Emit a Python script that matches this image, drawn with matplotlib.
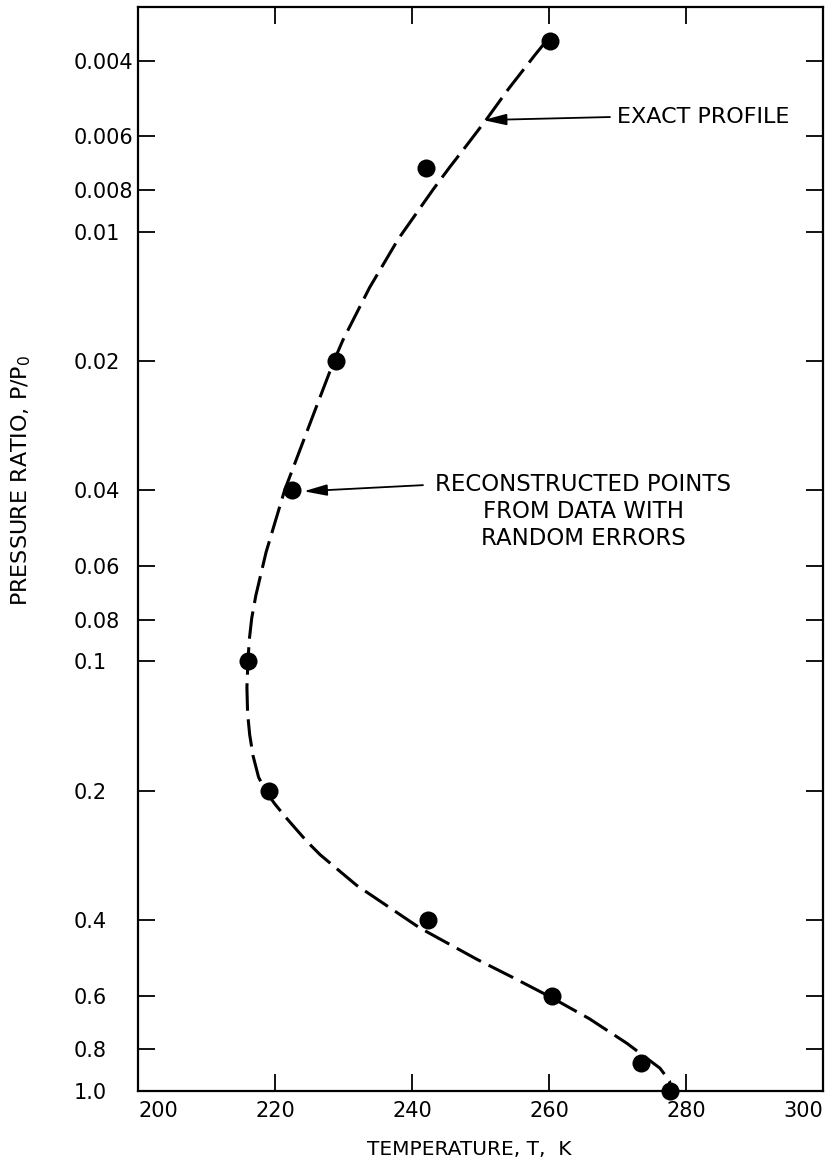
import matplotlib.pyplot as plt

# exact profile (temperature K, pressure ratio)
profile_t = [259.6, 258.0, 254.1, 250.9, 248.0, 245.5, 243.1, 238.0, 233.8,
             229.9, 228.6, 225.9, 221.4, 218.7, 217.2, 216.6, 216.25, 216.05,
             215.9, 216.0, 216.3, 216.8, 217.6, 218.6, 219.9, 221.4, 223.0,
             224.7, 226.6, 231.9, 241.1, 249.5, 254.6, 260.2, 265.9, 271.4,
             276.2, 277.6, 277.7]
profile_p = [0.0036, 0.00387, 0.00465, 0.00547, 0.00629, 0.00708, 0.00797,
             0.0104, 0.0135, 0.0179, 0.0200, 0.0259, 0.0400, 0.0557, 0.0703,
             0.0794, 0.0890, 0.100, 0.115, 0.132, 0.148, 0.166, 0.186, 0.200,
             0.214, 0.229, 0.245, 0.263, 0.282, 0.332, 0.417, 0.494, 0.543,
             0.604, 0.679, 0.775, 0.885, 0.948, 1.0]

# reconstructed points from data with random errors
recon_t = [260.1, 242.1, 228.9, 222.5, 216.0, 219.1, 242.4, 260.4, 273.5, 277.7]
recon_p = [0.0036, 0.0071, 0.02, 0.04, 0.1, 0.2, 0.4, 0.6, 0.86, 1.0]

y_ticks = [0.004, 0.006, 0.008, 0.01, 0.02, 0.04, 0.06, 0.08, 0.1, 0.2, 0.4,
           0.6, 0.8, 1.0]
y_tick_labels = ['0.004', '0.006', '0.008', '0.01', '0.02', '0.04', '0.06',
                 '0.08', '0.1', '0.2', '0.4', '0.6', '0.8', '1.0']
x_ticks = [200, 220, 240, 260, 280, 300]

plt.rcParams['font.family'] = ['DejaVu Sans']

fig = plt.figure(figsize=(8.33, 11.68), dpi=100)
ax = fig.add_axes([138 / 833, 1 - 1091 / 1168, 685 / 833, 1084 / 1168])

ax.set_yscale('log')
ax.set_xlim(200, 300)
ax.set_ylim(1.0, 0.003)

ax.plot(profile_t, profile_p, color='black', lw=2.2, dashes=(9, 2.8),
        zorder=2)
ax.plot(recon_t, recon_p, 'o', color='black', ms=13, mec='none',
        zorder=3, clip_on=False)

ax.set_xticks(x_ticks)
ax.set_xticklabels([str(t) for t in x_ticks])
ax.set_yticks(y_ticks)
ax.set_yticklabels(y_tick_labels)
ax.minorticks_off()

ax.tick_params(which='major', direction='in', length=12, width=1.3,
               top=True, right=True, labelsize=15, color='black')
ax.tick_params(axis='x', pad=7)
ax.tick_params(axis='y', pad=46)
for lab in ax.get_yticklabels():
    lab.set_horizontalalignment('left')
# end labels sit inside the frame corners
xlabs = ax.get_xticklabels()
xlabs[0].set_horizontalalignment('left')
xlabs[-1].set_horizontalalignment('right')

for sp in ax.spines.values():
    sp.set_linewidth(1.6)

ax.set_xlabel('TEMPERATURE, T,  K', fontsize=14.5)
ax.xaxis.set_label_coords(0.483, -0.045)
ax.set_ylabel('PRESSURE RATIO, P/P$_0$', fontsize=16)
ax.yaxis.set_label_coords(-0.153, 0.5637)

arrow = dict(arrowstyle='-|>,head_length=0.7,head_width=0.17',
             color='black', lw=1.3, mutation_scale=20,
             shrinkA=0, shrinkB=0)

ax.annotate('', xy=(250.4, 0.0055), xytext=(268.9, 0.00541),
            arrowprops=arrow)
ax.text(269.9, 0.00541, 'EXACT PROFILE', fontsize=16,
        ha='left', va='center')

ax.annotate('', xy=(224.2, 0.0402), xytext=(241.6, 0.0389),
            arrowprops=arrow)
ax.text(265.0, 0.0365, 'RECONSTRUCTED POINTS\nFROM DATA WITH\nRANDOM ERRORS',
        fontsize=16.5, ha='center', va='top', multialignment='center',
        linespacing=1.22)

fig.savefig('out.png', dpi=100)
